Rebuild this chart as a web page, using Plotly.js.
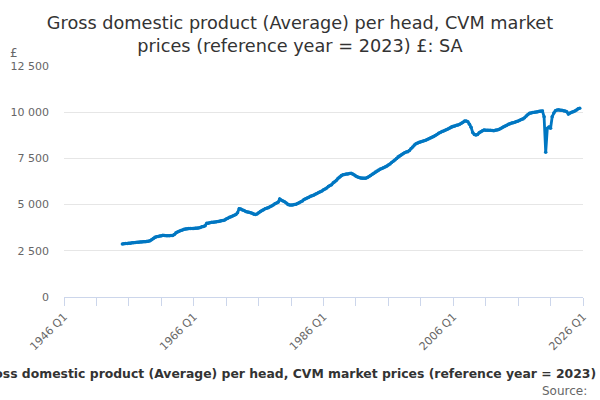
<!DOCTYPE html>
<html>
<head>
<meta charset="utf-8">
<script src="https://cdn.plot.ly/plotly-3.0.1.min.js"></script>
<style>html,body{margin:0;padding:0;background:#fff;}#chart{width:600px;height:400px;}</style>
</head>
<body>
<div id="chart"></div>
<script>
// Quarterly values, £ (CVM, reference year 2023), 1955 Q1 onwards
var startYear = 1955;
var gdp1950s = [2870,2880,2895,2900, 2905,2915,2935,2940, 2950,2960,2965,2970, 2975,2985,2990,3000, 3020,3040,3100,3170];
var gdp1960s = [3230,3260,3280,3300, 3320,3335,3330,3320, 3315,3320,3325,3330, 3380,3480,3520,3560, 3600,3630,3660,3680,
                3690,3700,3700,3710, 3710,3716,3725,3735, 3760,3800,3820,3850, 3990,3990,4020,4040, 4040,4060,4070,4090];
var gdp1970s = [4100,4120,4140,4160, 4220,4260,4310,4340, 4380,4420,4470,4560, 4780,4760,4710,4680, 4620,4600,4590,4560,
                4530,4480,4470,4490, 4560,4620,4680,4720, 4780,4800,4830,4880, 4930,4980,5040,5090, 5130,5300,5230,5200];
var gdp1980s = [5150,5080,5010,4980, 4975,4985,5000,5016, 5060,5100,5150,5200, 5280,5320,5360,5400, 5450,5480,5510,5557,
                5600,5650,5700,5735, 5800,5843,5900,5980, 6030,6080,6180,6240, 6320,6420,6500,6580, 6610,6630,6650,6660];
var gdp1990s = [6680,6690,6650,6600, 6540,6490,6460,6440, 6430,6420,6430,6460, 6520,6570,6640,6700, 6760,6820,6870,6920,
                6960,7000,7040,7080, 7141,7200,7280,7350, 7420,7500,7590,7640, 7700,7750,7800,7840, 7863,7930,8030,8120];
var gdp2000s = [8224,8290,8330,8370, 8400,8430,8456,8480, 8520,8560,8600,8650, 8690,8740,8800,8860, 8900,8950,8980,9020,
                9060,9110,9160,9215, 9240,9260,9290,9306, 9350,9400,9460,9522, 9522,9480,9350,9180, 8900,8800,8764,8800];
var gdp2010s = [8890,8945,9000,9035, 9030,9020,9030,9020, 9010,9000,9030,9035, 9060,9110,9160,9215, 9260,9300,9350,9380,
                9410,9430,9460,9490, 9520,9560,9600,9630, 9700,9790,9870,9938, 9960,9980,10000,10010, 10030,10050,10063,10060];
var gdp2020s = [9755,7830,9125,9200, 9125,9755,9950,10080, 10117,10130,10110,10100, 10080,10060,10025,9900, 9960,10000,10030,10060,
                10120,10180,10208];

var tickYears = [1946, 1966, 1986, 2006, 2026];
var yTicks = [0, 2500, 5000, 7500, 10000, 12500];

var titleText = 'Gross domestic product (Average) per head, CVM market<br>prices (reference year = 2023) £: SA';
var axisTitle = 'Gross domestic product (Average) per head, CVM market prices (reference year = 2023)';

var values = [].concat(gdp1950s, gdp1960s, gdp1970s, gdp1980s, gdp1990s, gdp2000s, gdp2010s, gdp2020s);
var quarterLabels = [];
var xs = [];
for (var i = 0; i < values.length; i++) {
  var yr = startYear + Math.floor(i / 4);
  var q = i % 4;
  quarterLabels.push(yr + ' Q' + (q + 1));
  xs.push(yr + q / 4);
}

var font = 'DejaVu Sans, sans-serif';
var trace = {
  x: xs, y: values, text: quarterLabels,
  type: 'scatter', mode: 'lines+markers',
  line: {color: '#0077c2', width: 2.8},
  marker: {color: '#0077c2', size: 3.5},
  hovertemplate: '%{text}: £%{y:,}<extra></extra>'
};

var layout = {
  width: 600, height: 400,
  margin: {l: 64, r: 17, t: 66, b: 103},
  paper_bgcolor: '#fff', plot_bgcolor: '#fff',
  separators: '. ',
  font: {family: font, color: '#666'},
  showlegend: false,
  title: {text: titleText, font: {family: font, size: 17.7, color: '#333'}, x: 0.5, xanchor: 'center', y: 0.927, yanchor: 'top', yref: 'container'},
  xaxis: {
    range: [1946, 2026],
    tickmode: 'array', tickvals: tickYears, ticktext: tickYears.map(function(y){return y + ' Q1';}),
    ticks: 'outside', ticklen: 8, tickcolor: '#ccd6eb', tickwidth: 1,
    showline: true, linecolor: '#ccd6eb', linewidth: 1,
    showgrid: false, zeroline: false,
    tickangle: -45, tickfont: {size: 11, color: '#666', family: font},
    minor: {tickmode: 'linear', tick0: 1946, dtick: 5, ticks: 'outside', ticklen: 8, tickcolor: '#ccd6eb', showgrid: false}
  },
  yaxis: {
    range: [0, 12500], tickmode: 'array', tickvals: yTicks,
    tickformat: ',d',
    showgrid: true, gridcolor: '#e6e6e6', gridwidth: 1,
    zeroline: false, showline: false, ticks: '',
    ticklabelstandoff: 14,
    tickfont: {size: 11, color: '#666', family: font}
  },
  annotations: [
    {text: '£', xref: 'paper', yref: 'paper', x: -0.097, y: 1.055, xanchor: 'center', yanchor: 'middle', showarrow: false,
     font: {size: 12, color: '#666', family: font}},
    {text: '<b>' + axisTitle + '</b>', xref: 'paper', yref: 'paper', x: 1.029, y: -0.333, xanchor: 'right', yanchor: 'middle', showarrow: false,
     font: {size: 12.4, color: '#333', family: font}},
    {text: 'Source:', xref: 'paper', yref: 'paper', x: 1.0116, y: -0.407, xanchor: 'right', yanchor: 'middle', showarrow: false,
     font: {size: 12, color: '#666', family: font}}
  ]
};

Plotly.newPlot('chart', [trace], layout, {displayModeBar: false, staticPlot: true});
</script>
</body>
</html>
